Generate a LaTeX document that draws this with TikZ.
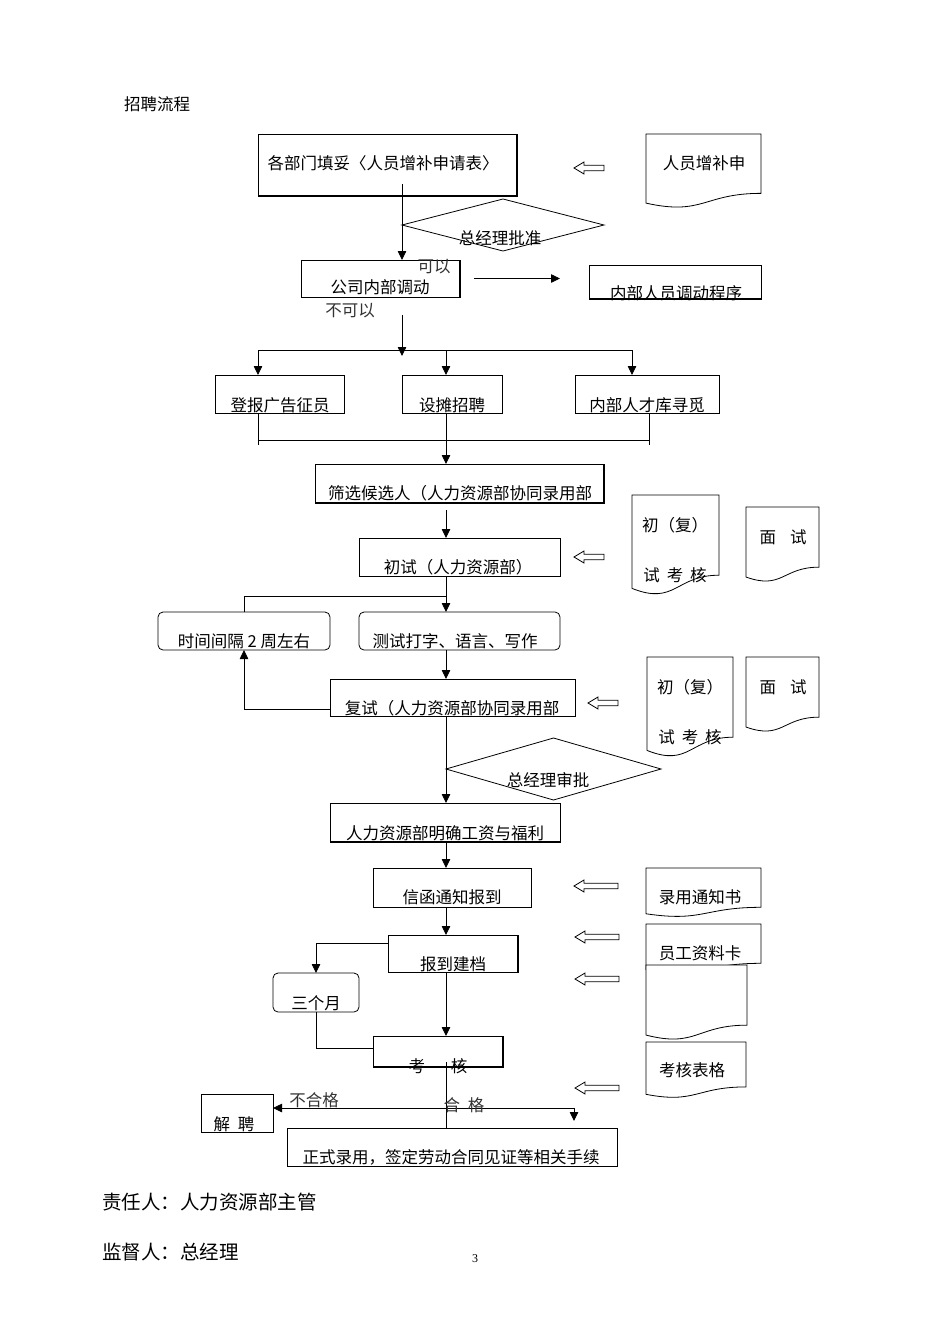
\documentclass[tikz,border=0pt]{standalone}
\usepackage{fontspec}
\setmainfont{Noto Sans CJK SC}
\newfontfamily\numfont{Liberation Serif}
\usetikzlibrary{arrows.meta,positioning,calc,shapes.geometric}

\begin{document}
\begin{tikzpicture}[x=1pt,y=-1pt,font=\fontsize{16.5}{18}\selectfont,>=Latex,
 box/.style={draw,line width=.8pt,inner sep=0pt,outer sep=0pt},
 rbox/.style={box,rounded corners=5pt},
 doc/.style={inner sep=0pt,outer sep=0pt},
 dia/.style={draw,diamond,line width=.8pt,inner sep=0pt,outer sep=0pt},
 txt/.style={inner sep=0pt},
 note/.style={inner sep=0pt,text=black!80},
 arr/.style={-{Triangle[length=9pt,width=8.5pt]},line width=.8pt},
 link/.style={line width=.8pt},
 heavy/.style={line width=1.6pt},
 hollow/.pic={\draw[line width=.8pt] (0,0) -- (10,-6) -- (10,-2.8) -- (#1,-2.8) -- (#1,2.8) -- (10,2.8) -- (10,6) -- cycle;}]
\fill[white] (0,0) rectangle (950,1344);
\node[txt,anchor=west] (title) at (124,104) {招聘流程};

% boxes of the main flow
\node[box,minimum width=259pt,minimum height=62pt] (apply) at (387.5,165) {};
\node[doc,minimum width=115pt,minimum height=74pt] (dreq) at (703.5,171) {};
\node[dia,minimum width=202pt,minimum height=52pt] (boss) at (503,225) {};
\node[box,minimum width=159pt,minimum height=37pt] (mobil) at (380.5,278.5) {};
\node[box,minimum width=172pt,minimum height=34pt] (proc) at (675,282) {};
\node[box,minimum width=129pt,minimum height=38pt] (ad) at (279.5,394) {};
\node[box,minimum width=100pt,minimum height=38pt] (stall) at (452,394) {};
\node[box,minimum width=144pt,minimum height=38pt] (pool) at (647,394) {};
\node[box,minimum width=289pt,minimum height=39pt] (screen) at (459.5,483.5) {};
\node[box,minimum width=201pt,minimum height=38pt] (first) at (459.5,557) {};
\node[doc,minimum width=87pt,minimum height=100pt] (dexa) at (675.5,545) {};
\node[doc,minimum width=73pt,minimum height=75pt] (dfaa) at (782.5,544.5) {};
\node[rbox,minimum width=172pt,minimum height=38pt] (gap) at (244,631) {};
\node[rbox,minimum width=201pt,minimum height=38pt] (test) at (459.5,631) {};
\node[box,minimum width=245pt,minimum height=37pt] (second) at (452.5,697.5) {};
\node[doc,minimum width=86pt,minimum height=100pt] (dexb) at (690,707) {};
\node[doc,minimum width=73pt,minimum height=75pt] (dfab) at (782.5,694.5) {};
\node[dia,minimum width=215pt,minimum height=62pt] (review) at (553.5,769) {};
\node[box,minimum width=230pt,minimum height=39pt] (wage) at (445,822.5) {};
\node[box,minimum width=158pt,minimum height=39pt] (letter) at (452,887.5) {};
\node[doc,minimum width=115pt,minimum height=49pt] (dnote) at (703.5,892.5) {};
\node[box,minimum width=130pt,minimum height=37pt] (file) at (453,953.5) {};
\node[doc,minimum width=115pt,minimum height=49pt] (dcard) at (703.5,948.5) {};
\node[doc,minimum width=101pt,minimum height=75pt] (dblank) at (696.5,1002.5) {};
\node[doc,minimum width=100pt,minimum height=56pt] (dform) at (696,1070) {};
\node[rbox,minimum width=86pt,minimum height=39pt] (month) at (316,992.5) {};
\node[box,minimum width=130pt,minimum height=31pt] (exam) at (438,1051.5) {};
\node[box,minimum width=72pt,minimum height=38pt] (fire) at (237,1113) {};
\node[box,minimum width=330pt,minimum height=38pt] (hire) at (452,1147) {};

% document shapes with wavy bottom
\foreach \d in {dreq,dexa,dfaa,dexb,dfab,dnote,dcard,dblank,dform}
  \draw[link,fill=white] (\d.north west) -- (\d.north east) -- ($(\d.north east)!0.802!(\d.south east)$)
    .. controls ($(\d.north)!0.802!(\d.south)$) and ($(\d.north)!1.107!(\d.south)$) .. ($(\d.north west)!0.934!(\d.south west)$) -- cycle;

% heavier edges
\draw[heavy] (apply.north east) -- (apply.south east) -- (apply.south west);
\draw[heavy] (mobil.north east) -- (mobil.south east);
\draw[heavy] (proc.south west) -- (proc.south east);
\draw[heavy] (screen.north east) -- (screen.south east) -- (screen.south west);
\draw[heavy] (wage.south west) -- (wage.south east);
\draw[heavy] (file.north east) -- (file.south east);
\draw[heavy] (exam.north east) -- (exam.south east) -- (exam.south west);

% connectors
\coordinate (top) at (402,184);
\coordinate (split) at (402,350);
\coordinate (jl) at (258,350); \coordinate (jm) at (446,350); \coordinate (jr) at (632,350);
\coordinate (ml) at (258,440); \coordinate (mr) at (649,440);
\coordinate (tl) at (244,596);
\coordinate (pass) at (574,1108);
\draw[arr] (top) -- (top |- mobil.north);
\draw[arr,shorten <=14pt,shorten >=29pt] (mobil.east) -- (mobil.east -| proc.west);
\draw[arr,shorten <=18pt,shorten >=-6pt] (mobil.south -| split) -- (split);
\draw[link] (jl) -- (jr);
\draw[arr] (jl) -- (jl |- ad.north);
\draw[arr] (jm) -- (jm |- stall.north);
\draw[arr] (jr) -- (jr |- pool.north);
\draw[link,shorten >=-5pt] (ad.south -| ml) -- (ml);
\draw[link,shorten >=-5pt] (pool.south -| mr) -- (mr);
\draw[link] (ml) -- (mr);
\draw[arr] (stall.south -| jm) -- (screen.north -| jm);
\draw[arr,shorten <=7pt] (screen.south -| jm) -- (first.north -| jm);
\draw[arr] (first.south -| jm) -- (test.north -| jm);
\draw[link] (gap.north) -- (tl) -- (tl -| jm);
\draw[arr] (test.south -| jm) -- (second.north -| jm);
\draw[arr] ([yshift=7pt]second.south west) -| (gap.south);
\draw[arr] (second.south -| jm) -- (wage.north -| jm);
\draw[arr] (wage.south -| jm) -- (letter.north -| jm);
\draw[arr] (letter.south -| jm) -- (file.north -| jm);
\draw[arr] ([yshift=-8pt]file.north west) -| (month.north);
\draw[arr] (file.south -| jm) -- (exam.north -| jm);
\draw[link] ([yshift=-12pt]exam.north west) -| (month.south);
\draw[link,shorten <=-5pt] (exam.south -| jm) -- (hire.north -| jm);
\draw[arr] (pass) -- (pass -| fire.east);
\draw[arr,shorten >=7pt] (pass) -- (pass |- hire.north);

% hollow arrows
\pic at (574,168) {hollow=30};
\pic at (574,557) {hollow=30};
\pic at (588,703) {hollow=30};
\pic at (574,886) {hollow=44};
\pic at (575,937) {hollow=44};
\pic at (575,979) {hollow=44};
\pic at (575,1088) {hollow=44};

% texts
\node[txt] (tapply) at (383,163) {各部门填妥〈人员增补申请表〉};
\node[txt] (treq) at (704,163) {人员增补申};
\node[txt] (tboss) at (500,238) {总经理批准};
\node[txt] (tmobil) at (380,287) {公司内部调动};
\node[note] (tcan) at (434,267) {可以};
\node[note] (tcannot) at (350,311) {不可以};
\node[txt] (tproc) at (676,293) {内部人员调动程序};
\node[txt] (tad) at (280,405) {登报广告征员};
\node[txt] (tstall) at (452,405) {设摊招聘};
\node[txt] (tpool) at (647,405) {内部人才库寻觅};
\node[txt] (tscreen) at (460,493) {筛选候选人（人力资源部协同录用部};
\node[txt] (tfirst) at (458,567) {初试（人力资源部）};
\node[txt] (texa1) at (675,525) {初（复）};
\node[txt] (texa2) at (675,575) {试\hspace{7pt}考\hspace{7pt}核};
\node[txt] (tfaa) at (783,537) {面\hspace{14pt}试};
\node[txt] (tgap) at (244,641) {时间间隔 2 周左右};
\node[txt] (ttest) at (455,641) {测试打字、语言、写作};
\node[txt] (tsecond) at (452,708) {复试（人力资源部协同录用部};
\node[txt] (texb1) at (690,687) {初（复）};
\node[txt] (texb2) at (690,737) {试\hspace{7pt}考\hspace{7pt}核};
\node[txt] (tfab) at (783,687) {面\hspace{14pt}试};
\node[txt] (treview) at (548,780) {总经理审批};
\node[txt] (twage) at (445,833) {人力资源部明确工资与福利};
\node[txt] (tletter) at (452,897) {信函通知报到};
\node[txt] (tnote) at (700,897) {录用通知书};
\node[txt] (tfile) at (453,964) {报到建档};
\node[txt] (tcard) at (700,953) {员工资料卡};
\node[txt] (tform) at (692,1070) {考核表格};
\node[txt] (tmonth) at (316,1003) {三个月};
\node[txt] (texam) at (438,1066) {考\hspace{26pt}核};
\node[note] (tfail) at (314,1100) {不合格};
\node[note] (tpass) at (464,1105) {合\hspace{8pt}格};
\node[txt] (tfire) at (234,1124) {解\hspace{8pt}聘};
\node[txt] (thire) at (451,1157) {正式录用，签定劳动合同见证等相关手续};
\node[txt,anchor=west,font=\fontsize{19.5}{22}\selectfont] (tchief) at (102,1202) {责任人：人力资源部主管};
\node[txt,anchor=west,font=\fontsize{19.5}{22}\selectfont] (tsuper) at (102,1252) {监督人：总经理};
\node[txt,font=\numfont\fontsize{12}{14}\selectfont] (page) at (475,1259) {3};
\end{tikzpicture}
\end{document}
